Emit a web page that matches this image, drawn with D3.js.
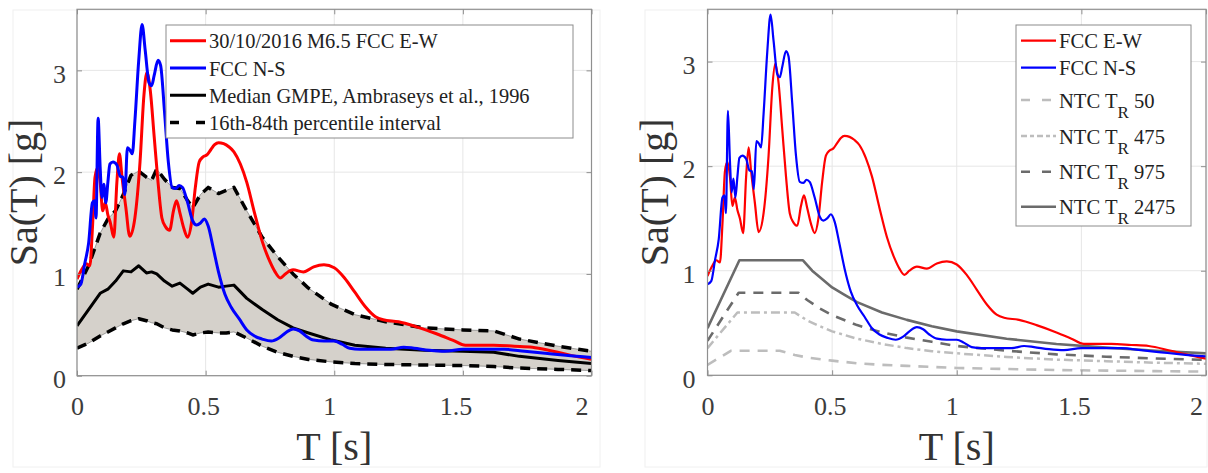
<!DOCTYPE html>
<html><head><meta charset="utf-8">
<script src="https://cdn.jsdelivr.net/npm/d3@7"></script>
<style>
body{margin:0;background:#fff;}
svg{display:block;}
text{font-family:"Liberation Serif","Times New Roman",Times,"DejaVu Serif",serif !important;}
</style></head><body>
<svg id="c" width="1208" height="473"></svg>
<script>
// ---------------- DATA ----------------
const xTickValues = [0, 0.5, 1, 1.5, 2];
const yTickValues = [0, 1, 2, 3];
const xLabel = "T [s]";
const yLabel = "Sa(T) [g]";

// Recorded spectra (FCC station)
const ewT  = [0,0.02,0.035,0.05,0.06,0.07,0.08,0.09,0.1,0.11,0.12,0.13,0.143,0.155,0.165,0.175,0.19,0.205,0.225,0.245,0.26,0.272,0.285,0.3,0.315,0.33,0.345,0.36,0.375,0.387,0.4,0.415,0.43,0.445,0.46,0.475,0.49,0.505,0.52,0.535,0.55,0.57,0.59,0.61,0.635,0.66,0.69,0.72,0.75,0.77,0.79,0.81,0.84,0.88,0.92,0.96,1.0,1.04,1.08,1.12,1.16,1.19,1.25,1.32,1.4,1.46,1.51,1.56,1.62,1.7,1.77,1.85,1.92,2.0];
const ewSa = [0.95,1.05,1.1,1.08,1.45,1.95,2.04,1.9,1.62,1.7,1.58,1.5,1.36,1.9,2.18,1.95,1.65,1.37,1.55,2.1,2.75,2.98,2.8,2.35,1.9,1.55,1.46,1.43,1.62,1.72,1.6,1.45,1.36,1.5,1.85,2.1,2.15,2.17,2.22,2.27,2.29,2.28,2.25,2.2,2.08,1.9,1.6,1.32,1.12,1.02,0.96,1.0,1.04,1.02,1.07,1.09,1.06,0.96,0.82,0.68,0.58,0.55,0.53,0.48,0.41,0.35,0.3,0.3,0.3,0.29,0.28,0.24,0.2,0.16];

const nsT  = [0,0.015,0.03,0.045,0.06,0.068,0.074,0.082,0.09,0.097,0.104,0.112,0.12,0.128,0.14,0.155,0.168,0.178,0.186,0.196,0.205,0.215,0.225,0.24,0.253,0.265,0.28,0.29,0.3,0.315,0.325,0.34,0.355,0.37,0.385,0.397,0.41,0.43,0.45,0.465,0.48,0.495,0.51,0.53,0.55,0.575,0.6,0.63,0.66,0.69,0.72,0.755,0.785,0.81,0.84,0.865,0.89,0.92,0.96,1.0,1.03,1.06,1.1,1.17,1.22,1.27,1.31,1.37,1.43,1.5,1.58,1.66,1.74,1.82,1.9,2.0];
const nsSa = [0.87,0.9,1.1,1.3,1.7,1.72,1.55,2.53,2.05,1.75,1.88,1.7,1.9,2.08,2.1,2.07,1.96,1.95,1.78,2.24,2.22,2.18,2.5,3.1,3.45,3.2,2.88,2.85,2.95,3.1,3.05,2.6,2.1,1.85,1.84,1.87,1.85,1.7,1.52,1.48,1.5,1.54,1.47,1.25,1.02,0.8,0.67,0.56,0.45,0.39,0.36,0.34,0.37,0.42,0.46,0.44,0.39,0.35,0.34,0.34,0.31,0.27,0.26,0.26,0.26,0.28,0.27,0.25,0.24,0.26,0.26,0.26,0.24,0.22,0.2,0.18];

// GMPE (Ambraseys et al., 1996)
const gmpeT      = [0,0.045,0.09,0.12,0.15,0.18,0.21,0.24,0.27,0.29,0.31,0.34,0.37,0.40,0.43,0.45,0.48,0.51,0.55,0.58,0.61,0.66,0.72,0.78,0.84,0.90,0.99,1.08,1.20,1.35,1.50,1.62,1.72,1.87,2.0];
const gmpeMedian = [0.49,0.65,0.81,0.85,0.93,1.03,1.02,1.08,1.01,1.02,1.0,0.93,0.88,0.91,0.85,0.81,0.87,0.90,0.87,0.88,0.89,0.76,0.65,0.55,0.47,0.42,0.35,0.30,0.27,0.25,0.24,0.23,0.19,0.15,0.12];
const gmpeP84    = [0.85,1.08,1.40,1.54,1.62,1.78,1.97,2.01,1.95,1.92,2.03,1.93,1.85,1.84,1.72,1.65,1.78,1.85,1.79,1.82,1.85,1.62,1.36,1.17,1.0,0.86,0.70,0.60,0.53,0.47,0.45,0.44,0.36,0.29,0.24];
const gmpeP16    = [0.27,0.32,0.39,0.43,0.47,0.51,0.54,0.56,0.54,0.52,0.51,0.47,0.45,0.44,0.42,0.40,0.42,0.43,0.42,0.42,0.43,0.37,0.29,0.23,0.19,0.16,0.135,0.12,0.11,0.105,0.10,0.09,0.075,0.062,0.05];

// NTC design spectra
const tr50T    = [0,0.095,0.29,0.35,0.4,0.5,0.6,0.7,0.8,0.9,1.0,1.2,1.4,1.6,1.8,2.0];
const tr50Sa   = [0.10,0.235,0.235,0.195,0.17,0.14,0.115,0.10,0.09,0.08,0.07,0.06,0.05,0.045,0.04,0.035];
const tr475T   = [0,0.12,0.35,0.4,0.45,0.5,0.6,0.7,0.8,0.9,1.0,1.2,1.4,1.6,1.8,2.0];
const tr475Sa  = [0.26,0.60,0.60,0.525,0.47,0.42,0.35,0.30,0.26,0.23,0.21,0.175,0.15,0.135,0.12,0.11];
const tr975T   = [0,0.125,0.365,0.4,0.45,0.5,0.6,0.7,0.8,0.9,1.0,1.2,1.4,1.6,1.8,2.0];
const tr975Sa  = [0.33,0.79,0.79,0.72,0.64,0.575,0.48,0.41,0.36,0.32,0.28,0.235,0.20,0.178,0.16,0.148];
const tr2475T  = [0,0.128,0.383,0.42,0.45,0.5,0.55,0.6,0.7,0.8,0.9,1.0,1.2,1.4,1.6,1.8,2.0];
const tr2475Sa = [0.45,1.10,1.10,1.0,0.94,0.84,0.77,0.70,0.60,0.53,0.47,0.42,0.35,0.30,0.265,0.235,0.21];

const leftLegend  = ["30/10/2016 M6.5 FCC E-W", "FCC N-S", "Median GMPE, Ambraseys et al., 1996", "16th-84th percentile interval"];
const rightLegend = ["FCC E-W", "FCC N-S", "50", "475", "975", "2475"];

// ---------------- DRAW ----------------
const FONT = '"Liberation Serif","Times New Roman",Times,"DejaVu Serif",serif';
const svg = d3.select("#c");
const zip = (a, b) => a.map((v, i) => [v, b[i]]);

svg.append("rect").attr("x",13).attr("y",10).attr("width",587).attr("height",457)
  .attr("fill","none").attr("stroke","#f0f0f0");
svg.append("rect").attr("x",645).attr("y",10).attr("width",562).attr("height",457)
  .attr("fill","none").attr("stroke","#f0f0f0");

function panel(cfg, id){
  const x = d3.scaleLinear().domain([0, 2]).range([cfg.x0, cfg.x1]);
  const y = d3.scaleLinear().domain([0, cfg.ymax]).range([cfg.yb, cfg.yt]);
  const g = svg.append("g");
  g.selectAll(null).data(xTickValues).enter().append("line")
    .attr("x1", d => x(d)).attr("x2", d => x(d)).attr("y1", cfg.yt).attr("y2", cfg.yb)
    .attr("stroke", "#e6e6e6").attr("stroke-width", 1);
  g.selectAll(null).data(yTickValues).enter().append("line")
    .attr("y1", d => y(d)).attr("y2", d => y(d)).attr("x1", cfg.x0).attr("x2", cfg.x1)
    .attr("stroke", "#e6e6e6").attr("stroke-width", 1);
  svg.append("clipPath").attr("id", id).append("rect")
    .attr("x", cfg.x0).attr("y", cfg.yt).attr("width", cfg.x1 - cfg.x0).attr("height", cfg.yb - cfg.yt);
  const plot = svg.append("g").attr("clip-path", `url(#${id})`);
  return {x, y, plot, cfg};
}

function axes(p){
  const {x, y, cfg} = p;
  const ax = svg.append("g");
  const styleAxis = sel => {
    sel.attr("font-family", FONT);
    sel.select(".domain").remove();
    sel.selectAll(".tick line").attr("stroke", "#8f8f8f");
    sel.selectAll(".tick text").attr("fill", "#3c3c3c").style("font-size", "26px");
  };
  const bx = ax.append("g").attr("transform", `translate(0,${cfg.yb})`)
    .call(d3.axisBottom(x).tickValues(xTickValues).tickSizeInner(-5).tickSizeOuter(0).tickPadding(21).tickFormat(d => String(d)));
  styleAxis(bx);
  bx.selectAll(".tick text").attr("dx", d => -5 * d);
  const tx = ax.append("g").attr("transform", `translate(0,${cfg.yt})`)
    .call(d3.axisTop(x).tickValues(xTickValues).tickSizeInner(-5).tickSizeOuter(0).tickFormat(""));
  styleAxis(tx);
  const ly = ax.append("g").attr("transform", `translate(${cfg.x0},0)`)
    .call(d3.axisLeft(y).tickValues(yTickValues).tickSizeInner(-5).tickSizeOuter(0).tickPadding(cfg.ypad).tickFormat(d => String(d)));
  styleAxis(ly);
  ly.selectAll(".tick text").attr("dy", "0.45em");
  const ry = ax.append("g").attr("transform", `translate(${cfg.x1},0)`)
    .call(d3.axisRight(y).tickValues(yTickValues).tickSizeInner(-5).tickSizeOuter(0).tickFormat(""));
  styleAxis(ry);
  ax.append("rect").attr("x", cfg.x0).attr("y", cfg.yt).attr("width", cfg.x1 - cfg.x0).attr("height", cfg.yb - cfg.yt)
    .attr("fill", "none").attr("stroke", "#8f8f8f").attr("stroke-width", 1.2);
  svg.append("text").attr("x", (cfg.x0 + cfg.x1) / 2).attr("y", 460).attr("text-anchor", "middle")
    .attr("font-family", FONT).attr("fill", "#333").style("font-size", "40px").text(xLabel);
  svg.append("text").attr("transform", `translate(${cfg.ytx},${(cfg.yt + cfg.yb) / 2}) rotate(-90)`)
    .attr("font-family", FONT).attr("text-anchor", "middle").attr("fill", "#333").style("font-size", "40px").text(yLabel);
}

function drawLine(p, T, S, color, width, dash, curve){
  p.plot.append("path").datum(zip(T, S))
    .attr("d", d3.line().x(d => p.x(d[0])).y(d => p.y(d[1])).curve(curve || d3.curveLinear))
    .attr("fill", "none").attr("stroke", color).attr("stroke-width", width)
    .attr("stroke-dasharray", dash || null).attr("stroke-linejoin", "round");
}

// ---------- LEFT PANEL ----------
const L = panel({x0: 77, x1: 591.5, yt: 9.3, yb: 375.7, ymax: 3.6, ypad: 11, ytx: 37}, "clipL");
L.plot.append("path").datum(gmpeT.map((t, i) => [t, gmpeP16[i], gmpeP84[i]]))
  .attr("d", d3.area().x(d => L.x(d[0])).y0(d => L.y(d[1])).y1(d => L.y(d[2])))
  .attr("fill", "#d5d1cb").attr("stroke", "#6a6a6a").attr("stroke-width", 0.6);
drawLine(L, gmpeT, gmpeMedian, "#000", 3);
drawLine(L, gmpeT, gmpeP84, "#000", 3.5, "10,7");
drawLine(L, gmpeT, gmpeP16, "#000", 3.5, "10,7");
drawLine(L, ewT, ewSa, "#ff0000", 3, null, d3.curveMonotoneX);
drawLine(L, nsT, nsSa, "#0000ff", 3, null, d3.curveMonotoneX);
axes(L);

{
  const lg = svg.append("g").attr("font-family", FONT);
  lg.append("rect").attr("x", 166).attr("y", 25).attr("width", 407).attr("height", 113)
    .attr("fill", "#fff").attr("stroke", "#8c8c8c").attr("stroke-width", 1);
  const styles = [["#ff0000", null, 3], ["#0000ff", null, 3], ["#000", null, 3], ["#000", "9,17", 3.5]];
  leftLegend.forEach((t, i) => {
    const yy = 40.7 + i * 27.3;
    lg.append("line").attr("x1", 170).attr("x2", 206).attr("y1", yy).attr("y2", yy)
      .attr("stroke", styles[i][0]).attr("stroke-width", styles[i][2]).attr("stroke-dasharray", styles[i][1]);
    lg.append("text").attr("x", 209).attr("y", yy + 7.5).attr("fill", "#222")
      .style("font-size", "20.4px").text(t);
  });
}

// ---------- RIGHT PANEL ----------
const R = panel({x0: 707.5, x1: 1206, yt: 9.3, yb: 375.3, ymax: 3.5, ypad: 12, ytx: 668}, "clipR");
drawLine(R, tr50T, tr50Sa, "#bdbdbd", 2.6, "10,8");
drawLine(R, tr475T, tr475Sa, "#bdbdbd", 2.5, "9,4,3,4");
drawLine(R, tr975T, tr975Sa, "#6b6b6b", 2.6, "10,8");
drawLine(R, tr2475T, tr2475Sa, "#6b6b6b", 2.6);
drawLine(R, ewT, ewSa, "#ff0000", 2.2, null, d3.curveMonotoneX);
drawLine(R, nsT, nsSa, "#0000ff", 2.2, null, d3.curveMonotoneX);
axes(R);

{
  const lg = svg.append("g").attr("font-family", FONT);
  lg.append("rect").attr("x", 1016).attr("y", 25).attr("width", 175).attr("height", 201)
    .attr("fill", "#fff").attr("stroke", "#8c8c8c").attr("stroke-width", 1);
  const ys = [40.7, 67.7, 100, 136, 171.7, 206.7];
  const styles = [["#ff0000", null, 2.2], ["#0000ff", null, 2.2], ["#bdbdbd", "9,12", 2.6],
                  ["#bdbdbd", "6,3,4,3", 2.6], ["#6b6b6b", "9,12", 2.6], ["#6b6b6b", null, 2.6]];
  rightLegend.forEach((t, i) => {
    const yy = ys[i];
    lg.append("line").attr("x1", 1021).attr("x2", 1056).attr("y1", yy).attr("y2", yy)
      .attr("stroke", styles[i][0]).attr("stroke-width", styles[i][2]).attr("stroke-dasharray", styles[i][1]);
    const tx = lg.append("text").attr("x", 1059).attr("y", yy + 7.5).attr("fill", "#222").style("font-size", "20.6px");
    if (i < 2) { tx.text(t); }
    else {
      tx.append("tspan").text("NTC T");
      tx.append("tspan").attr("dy", 10).style("font-size", "17px").text("R");
      tx.append("tspan").attr("dy", -10).text(" " + t);
    }
  });
}
</script>
</body></html>
